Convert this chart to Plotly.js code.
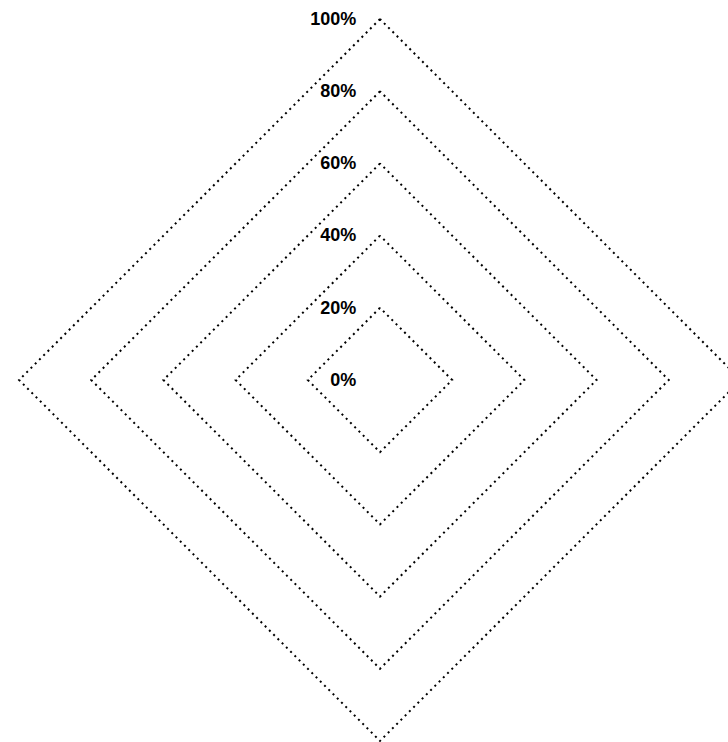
<!DOCTYPE html>
<html>
<head>
<meta charset="utf-8">
<script src="https://cdn.plot.ly/plotly-3.0.1.min.js"></script>
<style>
html,body{margin:0;padding:0;overflow:hidden;background:#fff;}
#chart{width:760px;height:760px;}
</style>
</head>
<body>
<div id="chart"></div>
<script>
var categories = ['A', 'B', 'C', 'D'];
var seriesValues = [null, null, null, null];
var tickValues = [0, 20, 40, 60, 80, 100];
var tickLabels = ['0%', '20%', '40%', '60%', '80%', '100%'];

var data = [{
  type: 'scatterpolar',
  r: seriesValues,
  theta: categories,
  mode: 'lines',
  line: {color: 'rgba(0,0,0,0)', width: 0},
  hoverinfo: 'skip',
  showlegend: false
}];

var layout = {
  width: 760,
  height: 760,
  margin: {l: 18, r: 18, t: 18, b: 18, pad: 0},
  paper_bgcolor: '#fff',
  showlegend: false,
  font: {family: 'Liberation Sans, Arial, Helvetica, sans-serif', color: '#000'},
  polar: {
    domain: {x: [0, 1], y: [0, 1]},
    bgcolor: 'rgba(0,0,0,0)',
    gridshape: 'linear',
    angularaxis: {
      type: 'category',
      categoryorder: 'array',
      categoryarray: categories,
      rotation: 90,
      direction: 'counterclockwise',
      showgrid: false,
      showline: false,
      showticklabels: false,
      ticks: ''
    },
    radialaxis: {
      range: [0, 100.3],
      angle: 90,
      tickangle: 90,
      tickmode: 'array',
      tickvals: tickValues,
      ticktext: tickLabels,
      showline: false,
      ticks: 'outside',
      ticklen: 17,
      tickcolor: 'rgba(0,0,0,0)',
      showgrid: true,
      gridcolor: '#000',
      gridwidth: 2,
      griddash: '2px,4px',
      side: 'counterclockwise',
      tickfont: {size: 18, color: '#000', weight: 'bold', family: 'Liberation Sans, Arial, sans-serif'}
    }
  }
};

Plotly.newPlot('chart', data, layout, {displayModeBar: false, staticPlot: true});
</script>
</body>
</html>
